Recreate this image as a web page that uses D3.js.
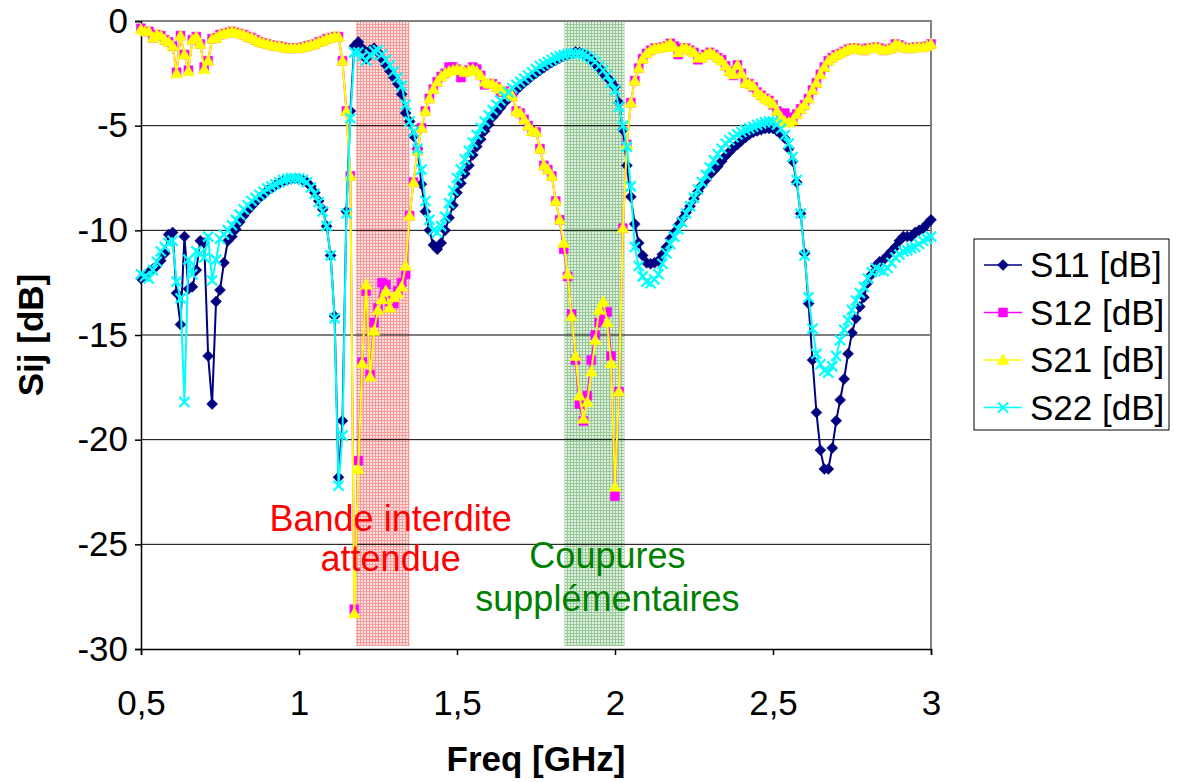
<!DOCTYPE html>
<html>
<head>
<meta charset="utf-8">
<script src="https://cdn.jsdelivr.net/npm/d3@7"></script>
<style>
  body { margin: 0; background: #fff; }
  svg { font-family: "Liberation Sans", Arial, sans-serif; }
</style>
</head>
<body>
<div id="chart"></div>
<script>
// frequency sweep: 201 points from 0.5 to 3 GHz
var freqStart = 0.5, freqStep = 0.0125, nPoints = 201;

var s11 = [-12.3,-12.15,-12.0,-11.85,-11.7,-11.45,-11.1,-10.2,-10.1,-13.0,
  -14.5,-10.3,-12.8,-12.7,-11.9,-10.5,-10.6,-16.0,-18.3,-13.4,
  -12.85,-11.55,-10.5,-10.3,-9.95,-9.6,-9.3,-9.05,-8.85,-8.65,
  -8.45,-8.3,-8.1,-8.0,-7.85,-7.75,-7.65,-7.6,-7.55,-7.52,
  -7.55,-7.6,-7.7,-7.9,-8.2,-8.6,-9.0,-9.8,-11.2,-14.1,
  -21.8,-19.1,-9.1,-4.3,-1.2,-1.0,-1.3,-1.8,-1.4,-1.3,
  -1.5,-1.8,-2.1,-2.4,-2.7,-3.0,-3.5,-4.4,-4.8,-5.5,
  -6.1,-7.8,-9.1,-10.0,-10.7,-10.9,-10.6,-10.0,-9.4,-8.8,
  -8.2,-7.75,-7.3,-6.9,-6.4,-6.0,-5.65,-5.25,-4.95,-4.6,
  -4.38,-4.15,-3.9,-3.7,-3.5,-3.3,-3.12,-2.95,-2.8,-2.63,
  -2.5,-2.36,-2.23,-2.1,-1.98,-1.88,-1.78,-1.68,-1.62,-1.56,
  -1.48,-1.5,-1.57,-1.68,-1.85,-2.05,-2.25,-2.5,-2.7,-2.9,
  -3.15,-3.9,-5.2,-6.9,-8.4,-9.7,-10.6,-11.2,-11.55,-11.6,
  -11.55,-11.45,-11.15,-10.8,-10.4,-10.1,-9.75,-9.45,-9.15,-8.85,
  -8.5,-8.15,-7.85,-7.6,-7.35,-7.15,-6.95,-6.7,-6.45,-6.25,
  -6.05,-5.9,-5.72,-5.57,-5.42,-5.32,-5.25,-5.2,-5.14,-5.13,
  -5.13,-5.25,-5.4,-5.6,-6.1,-6.7,-7.7,-9.2,-11.1,-13.5,
  -16.2,-18.7,-20.5,-21.4,-21.4,-20.4,-19.1,-18.1,-17.1,-15.9,
  -14.9,-14.2,-13.65,-13.2,-12.5,-12.1,-11.7,-11.5,-11.4,-11.2,
  -11.0,-10.8,-10.5,-10.3,-10.3,-10.3,-10.1,-10.0,-9.9,-9.7,
  -9.5];

var s12 = [-0.35,-0.5,-0.5,-0.8,-0.65,-0.7,-0.9,-1.0,-1.2,-2.45,
  -0.7,-1.6,-2.35,-0.9,-0.75,-1.1,-2.2,-1.9,-0.85,-0.8,
  -0.65,-0.6,-0.55,-0.5,-0.55,-0.6,-0.65,-0.75,-0.8,-0.9,
  -1.0,-1.05,-1.1,-1.15,-1.2,-1.2,-1.25,-1.3,-1.3,-1.3,
  -1.3,-1.25,-1.2,-1.15,-1.1,-1.0,-0.95,-0.85,-0.8,-0.75,
  -0.75,-1.9,-4.3,-7.4,-28.1,-21.0,-16.3,-12.9,-16.9,-14.4,
  -13.7,-12.5,-12.6,-13.4,-13.5,-12.9,-12.5,-12.1,-9.3,-7.7,
  -6.2,-5.1,-4.3,-3.7,-3.25,-2.9,-2.65,-2.5,-2.2,-2.2,
  -2.3,-2.7,-2.45,-2.35,-2.2,-2.3,-2.6,-3.05,-3.0,-3.0,
  -3.15,-3.4,-3.35,-3.5,-3.6,-4.3,-4.4,-4.7,-5.0,-5.25,
  -5.3,-6.1,-6.9,-7.1,-7.4,-8.6,-9.5,-10.9,-12.2,-14.0,
  -16.2,-18.3,-19.1,-17.9,-16.2,-15.0,-14.4,-14.0,-13.9,-16.0,
  -22.7,-17.7,-9.9,-5.9,-3.9,-2.85,-2.25,-1.8,-1.55,-1.4,
  -1.3,-1.3,-1.25,-1.2,-1.07,-1.2,-1.6,-1.3,-1.3,-1.4,
  -1.5,-1.85,-1.75,-1.6,-1.5,-1.6,-1.75,-1.85,-2.15,-2.4,
  -2.6,-2.1,-2.5,-2.95,-3.0,-3.15,-3.4,-3.55,-3.7,-3.8,
  -4.0,-4.3,-4.6,-4.4,-4.6,-4.75,-4.45,-4.2,-4.0,-3.7,
  -3.3,-2.95,-2.55,-2.2,-1.9,-1.75,-1.62,-1.55,-1.45,-1.35,
  -1.3,-1.3,-1.35,-1.4,-1.3,-1.3,-1.25,-1.3,-1.4,-1.35,
  -1.3,-1.1,-1.15,-1.25,-1.3,-1.3,-1.25,-1.25,-1.25,-1.2,
  -1.1];

var s21 = [-0.4,-0.5,-0.5,-0.8,-0.65,-0.7,-0.9,-1.0,-1.2,-2.5,
  -0.7,-1.6,-2.4,-0.9,-0.75,-1.1,-2.3,-1.9,-0.85,-0.8,
  -0.65,-0.6,-0.55,-0.5,-0.55,-0.6,-0.65,-0.75,-0.8,-0.9,
  -1.0,-1.05,-1.1,-1.15,-1.2,-1.2,-1.25,-1.3,-1.3,-1.3,
  -1.3,-1.25,-1.2,-1.15,-1.1,-1.0,-0.95,-0.85,-0.8,-0.75,
  -0.75,-1.9,-4.3,-7.4,-28.3,-21.4,-16.35,-12.6,-17.0,-14.8,
  -13.8,-13.3,-12.9,-13.7,-13.2,-13.0,-12.7,-11.7,-9.3,-7.7,
  -6.2,-5.1,-4.3,-3.7,-3.25,-2.9,-2.65,-2.5,-2.4,-2.35,
  -2.3,-2.35,-2.45,-2.35,-2.3,-2.4,-2.6,-2.9,-3.0,-3.0,
  -3.15,-3.25,-3.35,-3.5,-3.6,-4.3,-4.4,-4.7,-5.0,-5.25,
  -5.3,-6.1,-6.9,-7.1,-7.4,-8.6,-9.5,-10.6,-12.1,-14.1,
  -16.0,-17.9,-19.0,-18.2,-16.75,-15.24,-13.8,-13.4,-14.4,-16.35,
  -22.25,-17.7,-9.9,-5.9,-3.9,-2.85,-2.25,-1.8,-1.55,-1.4,
  -1.3,-1.3,-1.25,-1.2,-1.07,-1.25,-1.5,-1.3,-1.3,-1.4,
  -1.5,-1.75,-1.75,-1.6,-1.5,-1.6,-1.75,-1.9,-2.15,-2.4,
  -2.55,-2.1,-2.5,-2.95,-3.0,-3.1,-3.4,-3.55,-3.7,-3.8,
  -3.95,-4.3,-4.6,-4.8,-4.85,-4.75,-4.45,-4.2,-4.0,-3.7,
  -3.3,-2.95,-2.55,-2.2,-1.9,-1.75,-1.62,-1.55,-1.45,-1.35,
  -1.3,-1.3,-1.35,-1.4,-1.3,-1.3,-1.25,-1.3,-1.4,-1.35,
  -1.3,-1.1,-1.15,-1.25,-1.3,-1.3,-1.25,-1.25,-1.25,-1.2,
  -1.1];

var s22 = [-12.1,-12.2,-12.3,-11.9,-11.5,-11.0,-10.8,-10.6,-10.5,-12.45,
  -13.25,-18.2,-11.4,-12.1,-11.0,-11.1,-11.3,-10.3,-12.4,-11.4,
  -10.4,-10.2,-10.0,-9.75,-9.5,-9.25,-9.0,-8.8,-8.6,-8.45,
  -8.3,-8.15,-8.0,-7.9,-7.8,-7.7,-7.6,-7.55,-7.5,-7.5,
  -7.52,-7.58,-7.7,-7.95,-8.25,-8.65,-9.1,-9.8,-11.2,-14.2,
  -22.2,-19.8,-9.2,-4.65,-1.5,-1.5,-1.7,-1.9,-1.6,-1.45,
  -1.4,-1.6,-1.85,-2.1,-2.4,-2.7,-3.1,-4.0,-4.8,-5.3,
  -6.1,-7.1,-8.6,-9.5,-10.0,-10.1,-9.8,-9.35,-8.7,-8.1,
  -7.5,-7.1,-6.6,-6.2,-5.8,-5.45,-5.1,-4.8,-4.5,-4.25,
  -4.0,-3.8,-3.6,-3.4,-3.2,-3.05,-2.9,-2.75,-2.6,-2.45,
  -2.3,-2.15,-2.05,-1.95,-1.85,-1.75,-1.68,-1.62,-1.58,-1.55,
  -1.55,-1.55,-1.6,-1.68,-1.8,-1.95,-2.15,-2.35,-2.6,-2.95,
  -3.3,-4.1,-5.0,-6.0,-7.9,-10.8,-11.7,-12.2,-12.45,-12.53,
  -12.35,-12.1,-11.6,-11.1,-10.65,-10.3,-9.95,-9.6,-9.2,-8.85,
  -8.45,-8.05,-7.7,-7.35,-7.0,-6.65,-6.35,-6.1,-5.85,-5.7,
  -5.55,-5.42,-5.3,-5.2,-5.13,-5.05,-4.97,-4.9,-4.84,-4.8,
  -4.8,-4.95,-5.15,-5.45,-5.85,-6.5,-7.6,-9.2,-11.2,-13.2,
  -14.7,-15.9,-16.4,-16.7,-16.8,-16.5,-16.0,-15.25,-14.75,-14.3,
  -13.8,-13.35,-13.0,-12.7,-12.3,-12.0,-11.8,-11.9,-11.95,-11.8,
  -11.55,-11.3,-11.15,-11.0,-10.95,-10.85,-10.8,-10.65,-10.5,-10.4,
  -10.3];

var seriesNames = ["S11 [dB]", "S12 [dB]", "S21 [dB]", "S22 [dB]"];
var seriesColors = ["#000080", "#FF00FF", "#FFFF00", "#00FFFF"];
var seriesMarkers = ["diamond", "square", "triangle", "cross"];
var xTicks = [0.5, 1, 1.5, 2, 2.5, 3];
var yTicks = [0, -5, -10, -15, -20, -25, -30];

// shaded frequency bands [from, to] in GHz
var bandRed = [1.18, 1.35];
var bandGreen = [1.84, 2.03];

var freq = d3.range(nPoints).map(function(k) { return freqStart + k * freqStep; });
var allSeries = [s11, s12, s21, s22].map(function(vals, i) {
  return {
    name: seriesNames[i], color: seriesColors[i], marker: seriesMarkers[i],
    values: vals.map(function(v, k) { return {f: freq[k], db: v}; })
  };
});

// set the dimensions and margins of the graph
var margin = {top: 21, right: 247, bottom: 133, left: 141},
    width = 1178 - margin.left - margin.right,
    height = 782 - margin.top - margin.bottom;

var x = d3.scaleLinear().domain([0.5, 3]).range([0, width]);
var y = d3.scaleLinear().domain([-30, 0]).range([height, 0]);

var root = d3.select("#chart").append("svg")
    .attr("width", 1178)
    .attr("height", 782);

var defs = root.append("defs");

// small grid hatch patterns for the bands
function gridPattern(id, bg, line) {
  var p = defs.append("pattern")
      .attr("id", id)
      .attr("patternUnits", "userSpaceOnUse")
      .attr("width", 3).attr("height", 3);
  p.append("rect").attr("width", 3).attr("height", 3).attr("fill", bg);
  p.append("rect").attr("width", 3).attr("height", 1).attr("fill", line);
  p.append("rect").attr("width", 1).attr("height", 3).attr("fill", line);
}
gridPattern("hatchRed", "#ffe0e0", "#f39a9a");
gridPattern("hatchGreen", "#e0f0e0", "#98c898");

var svg = root.append("g")
    .attr("transform", "translate(" + margin.left + "," + margin.top + ")");

// bands
svg.append("rect")
    .attr("x", x(bandRed[0])).attr("y", 0)
    .attr("width", x(bandRed[1]) - x(bandRed[0]))
    .attr("height", height - 3)
    .attr("fill", "url(#hatchRed)");
svg.append("rect")
    .attr("x", x(bandGreen[0])).attr("y", 0)
    .attr("width", x(bandGreen[1]) - x(bandGreen[0]))
    .attr("height", height - 3)
    .attr("fill", "url(#hatchGreen)");

// horizontal gridlines
svg.selectAll(".grid")
    .data(yTicks.filter(function(d) { return d > -30 && d < 0; }))
    .enter().append("line")
    .attr("x1", 0).attr("x2", width)
    .attr("y1", function(d) { return y(d); })
    .attr("y2", function(d) { return y(d); })
    .attr("stroke", "#000")
    .attr("stroke-width", 1);

// plot area border (top and right, grey)
svg.append("path")
    .attr("d", "M0,0H" + width + "V" + height)
    .attr("fill", "none")
    .attr("stroke", "#808080")
    .attr("stroke-width", 2);

// add the y Axis
var yAxis = svg.append("g")
    .call(d3.axisLeft(y).tickValues(yTicks).tickSize(6).tickPadding(7)
      .tickFormat(function(d) { return String(d); }));
// add the x Axis
var xAxis = svg.append("g")
    .attr("transform", "translate(0," + height + ")")
    .call(d3.axisBottom(x).tickValues(xTicks).tickSize(6).tickPadding(35)
      .tickFormat(function(d) { return String(d).replace(".", ","); }));

[yAxis, xAxis].forEach(function(a) {
  a.selectAll("path, line").attr("stroke", "#000").attr("stroke-width", 1.5);
  a.selectAll("text").attr("font-size", 35).attr("fill", "#000")
    .attr("font-family", "Liberation Sans, Arial, sans-serif");
});

// marker paths
function markerPath(type) {
  if (type === "diamond") return "M0,-5.5L5.5,0L0,5.5L-5.5,0Z";
  if (type === "square") return "M-4.5,-4.5H4.5V4.5H-4.5Z";
  if (type === "triangle") return "M0,-6L6,4.5H-6Z";
  return "M-5,-5L5,5M-5,5L5,-5";
}

var line = d3.line()
    .x(function(d) { return x(d.f); })
    .y(function(d) { return y(d.db); });

allSeries.forEach(function(s) {
  var g = svg.append("g");
  g.append("path")
      .datum(s.values)
      .attr("d", line)
      .attr("fill", "none")
      .attr("stroke", s.color)
      .attr("stroke-width", 2);
  g.selectAll(".m")
      .data(s.values)
      .enter().append("path")
      .attr("transform", function(d) { return "translate(" + x(d.f) + "," + y(d.db) + ")"; })
      .attr("d", markerPath(s.marker))
      .attr("fill", s.marker === "cross" ? "none" : s.color)
      .attr("stroke", s.color)
      .attr("stroke-width", s.marker === "cross" ? 2.2 : 0.5);
});

// annotations
svg.append("text")
    .attr("x", x(1.29)).attr("y", 510)
    .attr("text-anchor", "middle").attr("fill", "#FF0000")
    .attr("font-size", 36).text("Bande interdite");
svg.append("text")
    .attr("x", x(1.29)).attr("y", 550)
    .attr("text-anchor", "middle").attr("fill", "#FF0000")
    .attr("font-size", 36).text("attendue");
svg.append("text")
    .attr("x", x(1.976)).attr("y", 547)
    .attr("text-anchor", "middle").attr("fill", "#008000")
    .attr("font-size", 36).text("Coupures");
svg.append("text")
    .attr("x", x(1.976)).attr("y", 590)
    .attr("text-anchor", "middle").attr("fill", "#008000")
    .attr("font-size", 36).text("supplémentaires");

// axis titles
root.append("text")
    .attr("transform", "translate(43," + (margin.top + height / 2) + ") rotate(-90)")
    .attr("text-anchor", "middle")
    .attr("font-size", 35).attr("font-weight", "bold")
    .text("Sij [dB]");
root.append("text")
    .attr("x", margin.left + width / 2).attr("y", 771)
    .attr("text-anchor", "middle")
    .attr("font-size", 35).attr("font-weight", "bold")
    .text("Freq [GHz]");

// legend
var legend = root.append("g").attr("transform", "translate(974,239)");
legend.append("rect")
    .attr("width", 195).attr("height", 191)
    .attr("fill", "#fff").attr("stroke", "#000").attr("stroke-width", 1);
allSeries.forEach(function(s, i) {
  var ly = 26 + i * 47.5;
  legend.append("line")
      .attr("x1", 10).attr("x2", 48).attr("y1", ly).attr("y2", ly)
      .attr("stroke", s.color).attr("stroke-width", 1.5);
  legend.append("path")
      .attr("transform", "translate(29," + ly + ")")
      .attr("d", markerPath(s.marker))
      .attr("fill", s.marker === "cross" ? "none" : s.color)
      .attr("stroke", s.color)
      .attr("stroke-width", s.marker === "cross" ? 2 : 0.5);
  legend.append("text")
      .attr("x", 56).attr("y", ly + 12)
      .attr("font-size", 35).attr("fill", "#000")
      .text(s.name);
});
</script>
</body>
</html>
